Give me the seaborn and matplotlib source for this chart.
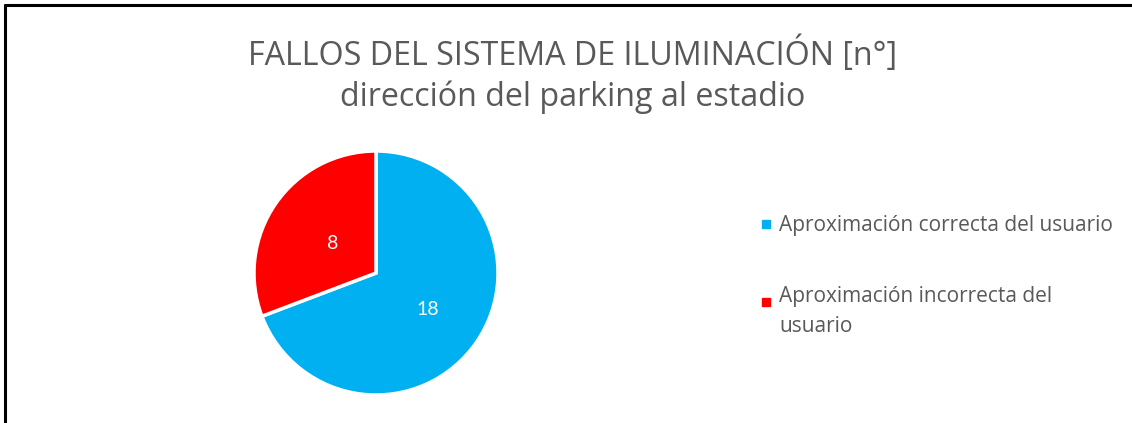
import matplotlib
matplotlib.use("Agg")
import matplotlib.pyplot as plt
from matplotlib.lines import Line2D
from matplotlib.legend_handler import HandlerLine2D
import numpy as np
import seaborn as sns

# Data
categories = ["Aproximación correcta del usuario", "Aproximación incorrecta del\nusuario"]
values = [18, 8]
colors = ["#00B0F0", "#FF0000"]
title_lines = ["FALLOS DEL SISTEMA DE ILUMINACIÓN [n°]", "dirección del parking al estadio"]

sns.set_theme(style="white")
plt.rcParams["font.family"] = ["Open Sans", "DejaVu Sans"]

W, H = 1132, 423
fig = plt.figure(figsize=(W / 100, H / 100), dpi=100)
fig.patch.set_facecolor("white")

# Pie axes: centre (376, 273) px, radius 122 px
cx, cy, r = 376, 273, 122
ax = fig.add_axes([(cx - r) / W, (H - cy - r) / H, 2 * r / W, 2 * r / H])
wedges, _ = ax.pie(values, colors=colors, startangle=90, counterclock=False,
                   radius=1.0, wedgeprops=dict(edgecolor="white", linewidth=2.5))
ax.set_xlim(-1, 1)
ax.set_ylim(-1, 1)
ax.set_aspect("equal")
ax.axis("off")

# Value labels placed along each wedge's bisector
label_dist = [0.52, 0.43]
for w, v, d in zip(wedges, values, label_dist):
    mid = np.deg2rad((w.theta1 + w.theta2) / 2)
    ax.text(d * np.cos(mid), d * np.sin(mid), str(v), ha="center", va="center",
            color="white", fontsize=14, family=["Lato", "DejaVu Sans"])

# Title
fig.text(573 / W, 1 - 55 / H, title_lines[0], ha="center", va="center",
         fontsize=23.2, color="#595959")
fig.text(573 / W, 1 - 97 / H, title_lines[1], ha="center", va="center",
         fontsize=23.2, color="#595959")


class FirstLineHandler(HandlerLine2D):
    """Puts the legend marker beside the first line of a wrapped label."""

    def __init__(self, nlines, shift_per_line, **kw):
        super().__init__(**kw)
        self.shift = (nlines - 1) * shift_per_line

    def create_artists(self, legend, orig_handle, xdescent, ydescent, width,
                       height, fontsize, trans):
        return super().create_artists(legend, orig_handle, xdescent,
                                      ydescent - self.shift, width, height,
                                      fontsize, trans)


# Legend
handles = [Line2D([0], [0], marker="s", linestyle="none", markersize=6,
                  markerfacecolor=c, markeredgecolor=c) for c in colors]
shift_pt = 21 * 72 / 100
hmap = {h: FirstLineHandler(lab.count("\n") + 1, shift_pt)
        for h, lab in zip(handles, categories)}
leg = fig.legend(handles, categories, loc="upper left", handler_map=hmap,
                 bbox_to_anchor=(751 / W, 1 - 205 / H), frameon=False,
                 fontsize=15, labelcolor="#595959", handlelength=0.45,
                 handletextpad=0.4, labelspacing=2.4, borderpad=0)
for t in leg.get_texts():
    t.set_linespacing(1.55)

# Chart border (left and top edges)
fig.add_artist(Line2D([5 / W, 5 / W], [0, 1 - 5 / H], color="black", lw=2.2,
                      transform=fig.transFigure))
fig.add_artist(Line2D([5 / W, 1], [1 - 5 / H, 1 - 5 / H], color="black", lw=2.2,
                      transform=fig.transFigure))

fig.savefig("out.png", dpi=100, facecolor="white")
